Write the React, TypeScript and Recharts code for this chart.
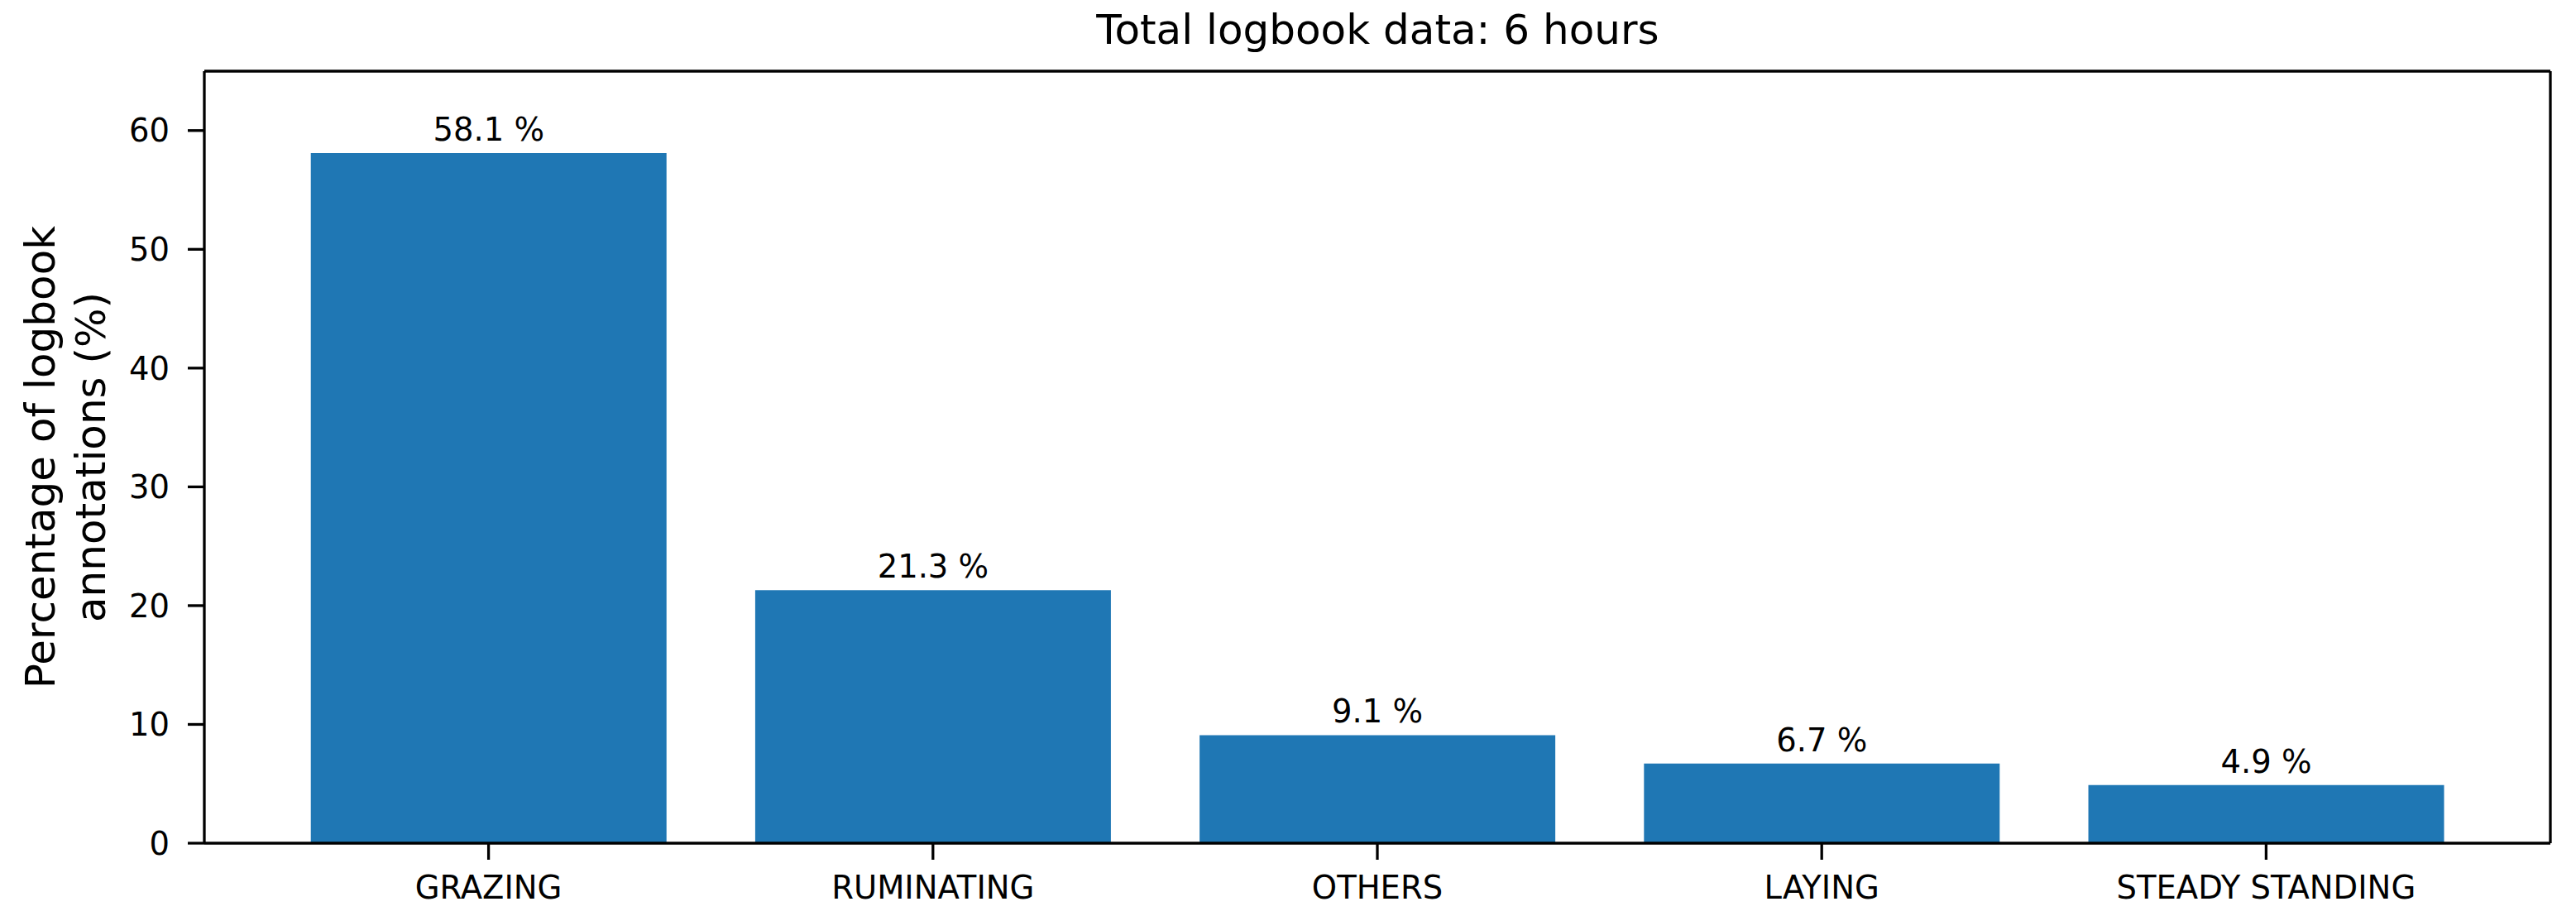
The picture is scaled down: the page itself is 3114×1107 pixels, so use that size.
import { BarChart, Bar, XAxis, YAxis, LabelList, Label } from "recharts"

const categories = ["GRAZING", "RUMINATING", "OTHERS", "LAYING", "STEADY STANDING"]
const percentages = [58.1, 21.3, 9.1, 6.7, 4.9]
const yTicks = [0, 10, 20, 30, 40, 50, 60]
const yMax = 65

const title = "Total logbook data: 6 hours"
const yLabelLines = ["Percentage of logbook", "annotations (%)"]

const data = categories.map((name, i) => ({ name, value: percentages[i] }))

const FONT = "DejaVu Sans, Verdana, sans-serif"
const TICK_FONT = 38.5
const BIG_FONT = 50
const LINE = 3.3

function YLabel(props: any) {
  const vb = props.viewBox || {}
  const cy = (vb.y ?? 86) + (vb.height ?? 933) / 2
  const xs = [66, 127]
  return (
    <g>
      {yLabelLines.map((t, i) => (
        <text
          key={i}
          x={xs[i]}
          y={cy}
          transform={`rotate(-90, ${xs[i]}, ${cy})`}
          textAnchor="middle"
          fontFamily={FONT}
          fontSize={BIG_FONT}
          fill="#000"
        >
          {t}
        </text>
      ))}
    </g>
  )
}

function BarValue(props: any) {
  const { x, y, width, value } = props
  return (
    <text
      x={Number(x) + Number(width) / 2}
      y={Number(y) - 15}
      textAnchor="middle"
      fontFamily={FONT}
      fontSize={TICK_FONT}
      fill="#000"
    >
      {`${Number(value).toFixed(1)} %`}
    </text>
  )
}

export default function App() {
  const tickStyle = { fontSize: TICK_FONT, fill: "#000", fontFamily: FONT }
  return (
    <div style={{ position: "absolute", left: 0, top: 0, width: 3114, height: 1107, background: "#fff" }}>
      <div
        style={{
          position: "absolute",
          left: 248,
          width: 2835,
          top: 11,
          textAlign: "center",
          fontFamily: FONT,
          fontSize: BIG_FONT,
          lineHeight: "50px",
          color: "#000",
          whiteSpace: "nowrap",
        }}
      >
        {title}
      </div>
      <BarChart
        width={3114}
        height={1107}
        data={data}
        margin={{ top: 85, right: 30, left: 0, bottom: 0 }}
        barCategoryGap="10%"
      >
        <XAxis
          dataKey="name"
          height={88}
          padding={{ left: 75, right: 75 }}
          tick={tickStyle}
          tickSize={20}
          tickMargin={20}
          axisLine={{ stroke: "#000", strokeWidth: LINE }}
          tickLine={{ stroke: "#000", strokeWidth: LINE }}
          interval={0}
        />
        <XAxis
          xAxisId="top"
          orientation="top"
          dataKey="name"
          height={1}
          padding={{ left: 75, right: 75 }}
          tick={false}
          tickLine={false}
          axisLine={{ stroke: "#000", strokeWidth: LINE }}
        />
        <YAxis
          width={247}
          domain={[0, yMax]}
          ticks={yTicks}
          type="number"
          allowDataOverflow
          tick={tickStyle}
          tickSize={20}
          tickMargin={22}
          axisLine={{ stroke: "#000", strokeWidth: LINE }}
          tickLine={{ stroke: "#000", strokeWidth: LINE }}
        >
          <Label content={YLabel} />
        </YAxis>
        <YAxis
          yAxisId="right"
          orientation="right"
          width={1}
          domain={[0, yMax]}
          tick={false}
          tickLine={false}
          axisLine={{ stroke: "#000", strokeWidth: LINE }}
        />
        <Bar dataKey="value" fill="#1f77b4" isAnimationActive={false}>
          <LabelList dataKey="value" content={BarValue} />
        </Bar>
      </BarChart>
    </div>
  )
}
